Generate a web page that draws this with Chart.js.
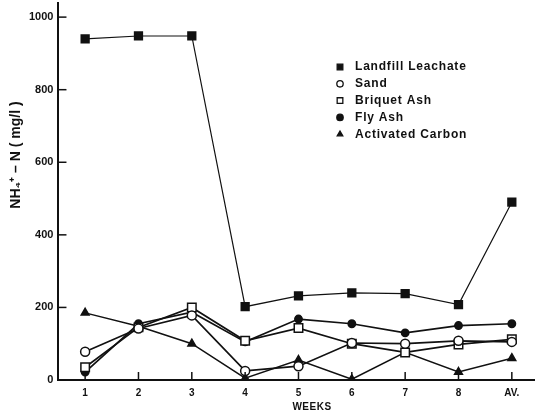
<!DOCTYPE html>
<html>
<head>
<meta charset="utf-8">
<script src="https://cdn.jsdelivr.net/npm/chart.js@4"></script>
<style>
  html, body { margin: 0; padding: 0; background: #fff; overflow: hidden; }
  #frame { width: 535px; height: 413px; overflow: hidden; position: relative; }
  #wrap { position: absolute; left: 0; top: -9px; width: 546px; height: 422px; }
</style>
</head>
<body>
<div id="frame"><div id="wrap"><canvas id="nh4"></canvas></div></div>
<script>
const weeks = ['1', '2', '3', '4', '5', '6', '7', '8', 'AV.']
const yTicks = [0, 200, 400, 600, 800, 1000]

const leachate = [940, 948, 948, 202, 232, 240, 238, 208, 490]
const sand = [78, 142, 178, 25, 38, 102, 100, 108, 105]
const briquetAsh = [35, 145, 200, 108, 143, 100, 76, 98, 112]
const flyAsh = [22, 155, 187, 105, 168, 155, 130, 150, 155]
const activatedCarbon = [185, 148, 100, 5, 55, 2, 76, 22, 60]

const ink = '#111'
const fontFamily = '"Liberation Sans", Arial, sans-serif'
const shiftY = 9 // canvas sits 9px above the page top

const data = {
    labels: weeks,
    datasets: [
        { label: 'Landfill Leachate', data: leachate, pointStyle: 'rect', pointRadius: 5.5, backgroundColor: ink, borderWidth: 1.2 },
        { label: 'Sand', data: sand, pointStyle: 'circle', pointRadius: 4.5, backgroundColor: '#fff', borderWidth: 1.7 },
        { label: 'Briquet Ash', data: briquetAsh, pointStyle: 'rect', pointRadius: 6, backgroundColor: '#fff', borderWidth: 1.7 },
        { label: 'Fly Ash', data: flyAsh, pointStyle: 'circle', pointRadius: 3.7, backgroundColor: ink, borderWidth: 1.7 },
        { label: 'Activated Carbon', data: activatedCarbon, pointStyle: 'triangle', pointRadius: 4.5, backgroundColor: ink, borderWidth: 1.5 },
    ],
}
data.datasets.forEach(ds => {
    ds.borderColor = ink
    ds.pointBorderColor = ink
    ds.pointBackgroundColor = ds.backgroundColor
    ds.pointBorderWidth = 1.5
    ds.tension = 0
})

// ticks pointing into the plot, like the original
const innerTicks = {
    id: 'innerTicks',
    afterDraw(chart) {
        const ctx = chart.ctx
        const x = chart.scales.x, y = chart.scales.y
        ctx.save()
        ctx.strokeStyle = ink
        ctx.lineWidth = 1.5
        yTicks.forEach(v => {
            const py = y.getPixelForValue(v)
            ctx.beginPath(); ctx.moveTo(x.left, py); ctx.lineTo(x.left + 8, py); ctx.stroke()
        })
        weeks.forEach((w, i) => {
            const px = x.getPixelForValue(i)
            ctx.beginPath(); ctx.moveTo(px, y.bottom); ctx.lineTo(px, y.bottom - 8); ctx.stroke()
        })
        ctx.restore()
    }
}

// legend inside the plot, axis titles placed as in the scan
const extras = {
    id: 'extras',
    afterDraw(chart) {
        const ctx = chart.ctx
        ctx.save()
        ctx.font = 'bold 12px ' + fontFamily
        ctx.letterSpacing = '0.8px'
        ctx.textBaseline = 'middle'
        chart.data.datasets.forEach((ds, i) => {
            const ly = 67 + shiftY + i * 16.8
            ctx.strokeStyle = ink
            ctx.fillStyle = ds.backgroundColor
            ctx.lineWidth = 1.3
            Chart.helpers.drawPoint(ctx, { pointStyle: ds.pointStyle, radius: ds.pointStyle === 'rect' ? 4 : 3.2, borderWidth: 1.3 }, 340, ly)
            ctx.fillStyle = ink
            ctx.fillText(ds.label, 355, ly)
        })

        ctx.font = 'bold 10px ' + fontFamily
        ctx.letterSpacing = '0.5px'
        ctx.textAlign = 'center'
        ctx.fillText('WEEKS', 312, 407 + shiftY)

        ctx.translate(16, 155 + shiftY)
        ctx.rotate(-Math.PI / 2)
        ctx.font = 'bold 14px ' + fontFamily
        ctx.letterSpacing = '0px'
        ctx.fillText('NH₄⁺ – N ( mg/l )', 0, 0)
        ctx.restore()
    }
}

const config = {
    type: 'line',
    data: data,
    options: {
        responsive: true,
        maintainAspectRatio: false,
        animation: false,
        layout: { padding: { top: 0, right: 0, left: 24, bottom: 7 } },
        plugins: {
            legend: { display: false },
            tooltip: { enabled: false },
        },
        scales: {
            x: {
                offset: true,
                grid: { display: false, drawTicks: false },
                border: { display: true, color: ink, width: 2 },
                ticks: { color: ink, font: { family: fontFamily, size: 10, weight: 'bold' }, padding: 7 },
            },
            y: {
                min: 0,
                max: 1040,
                afterBuildTicks: axis => { axis.ticks = yTicks.map(v => ({ value: v })) },
                grid: { display: false, drawTicks: false },
                border: { display: true, color: ink, width: 2 },
                ticks: { color: ink, font: { family: fontFamily, size: 11, weight: 'bold' }, padding: 5, callback: v => String(v) },
            },
        },
    },
    plugins: [innerTicks, extras],
}

const canvas = document.getElementById('nh4')
const chart = new Chart(canvas, config)
</script>
</body>
</html>
